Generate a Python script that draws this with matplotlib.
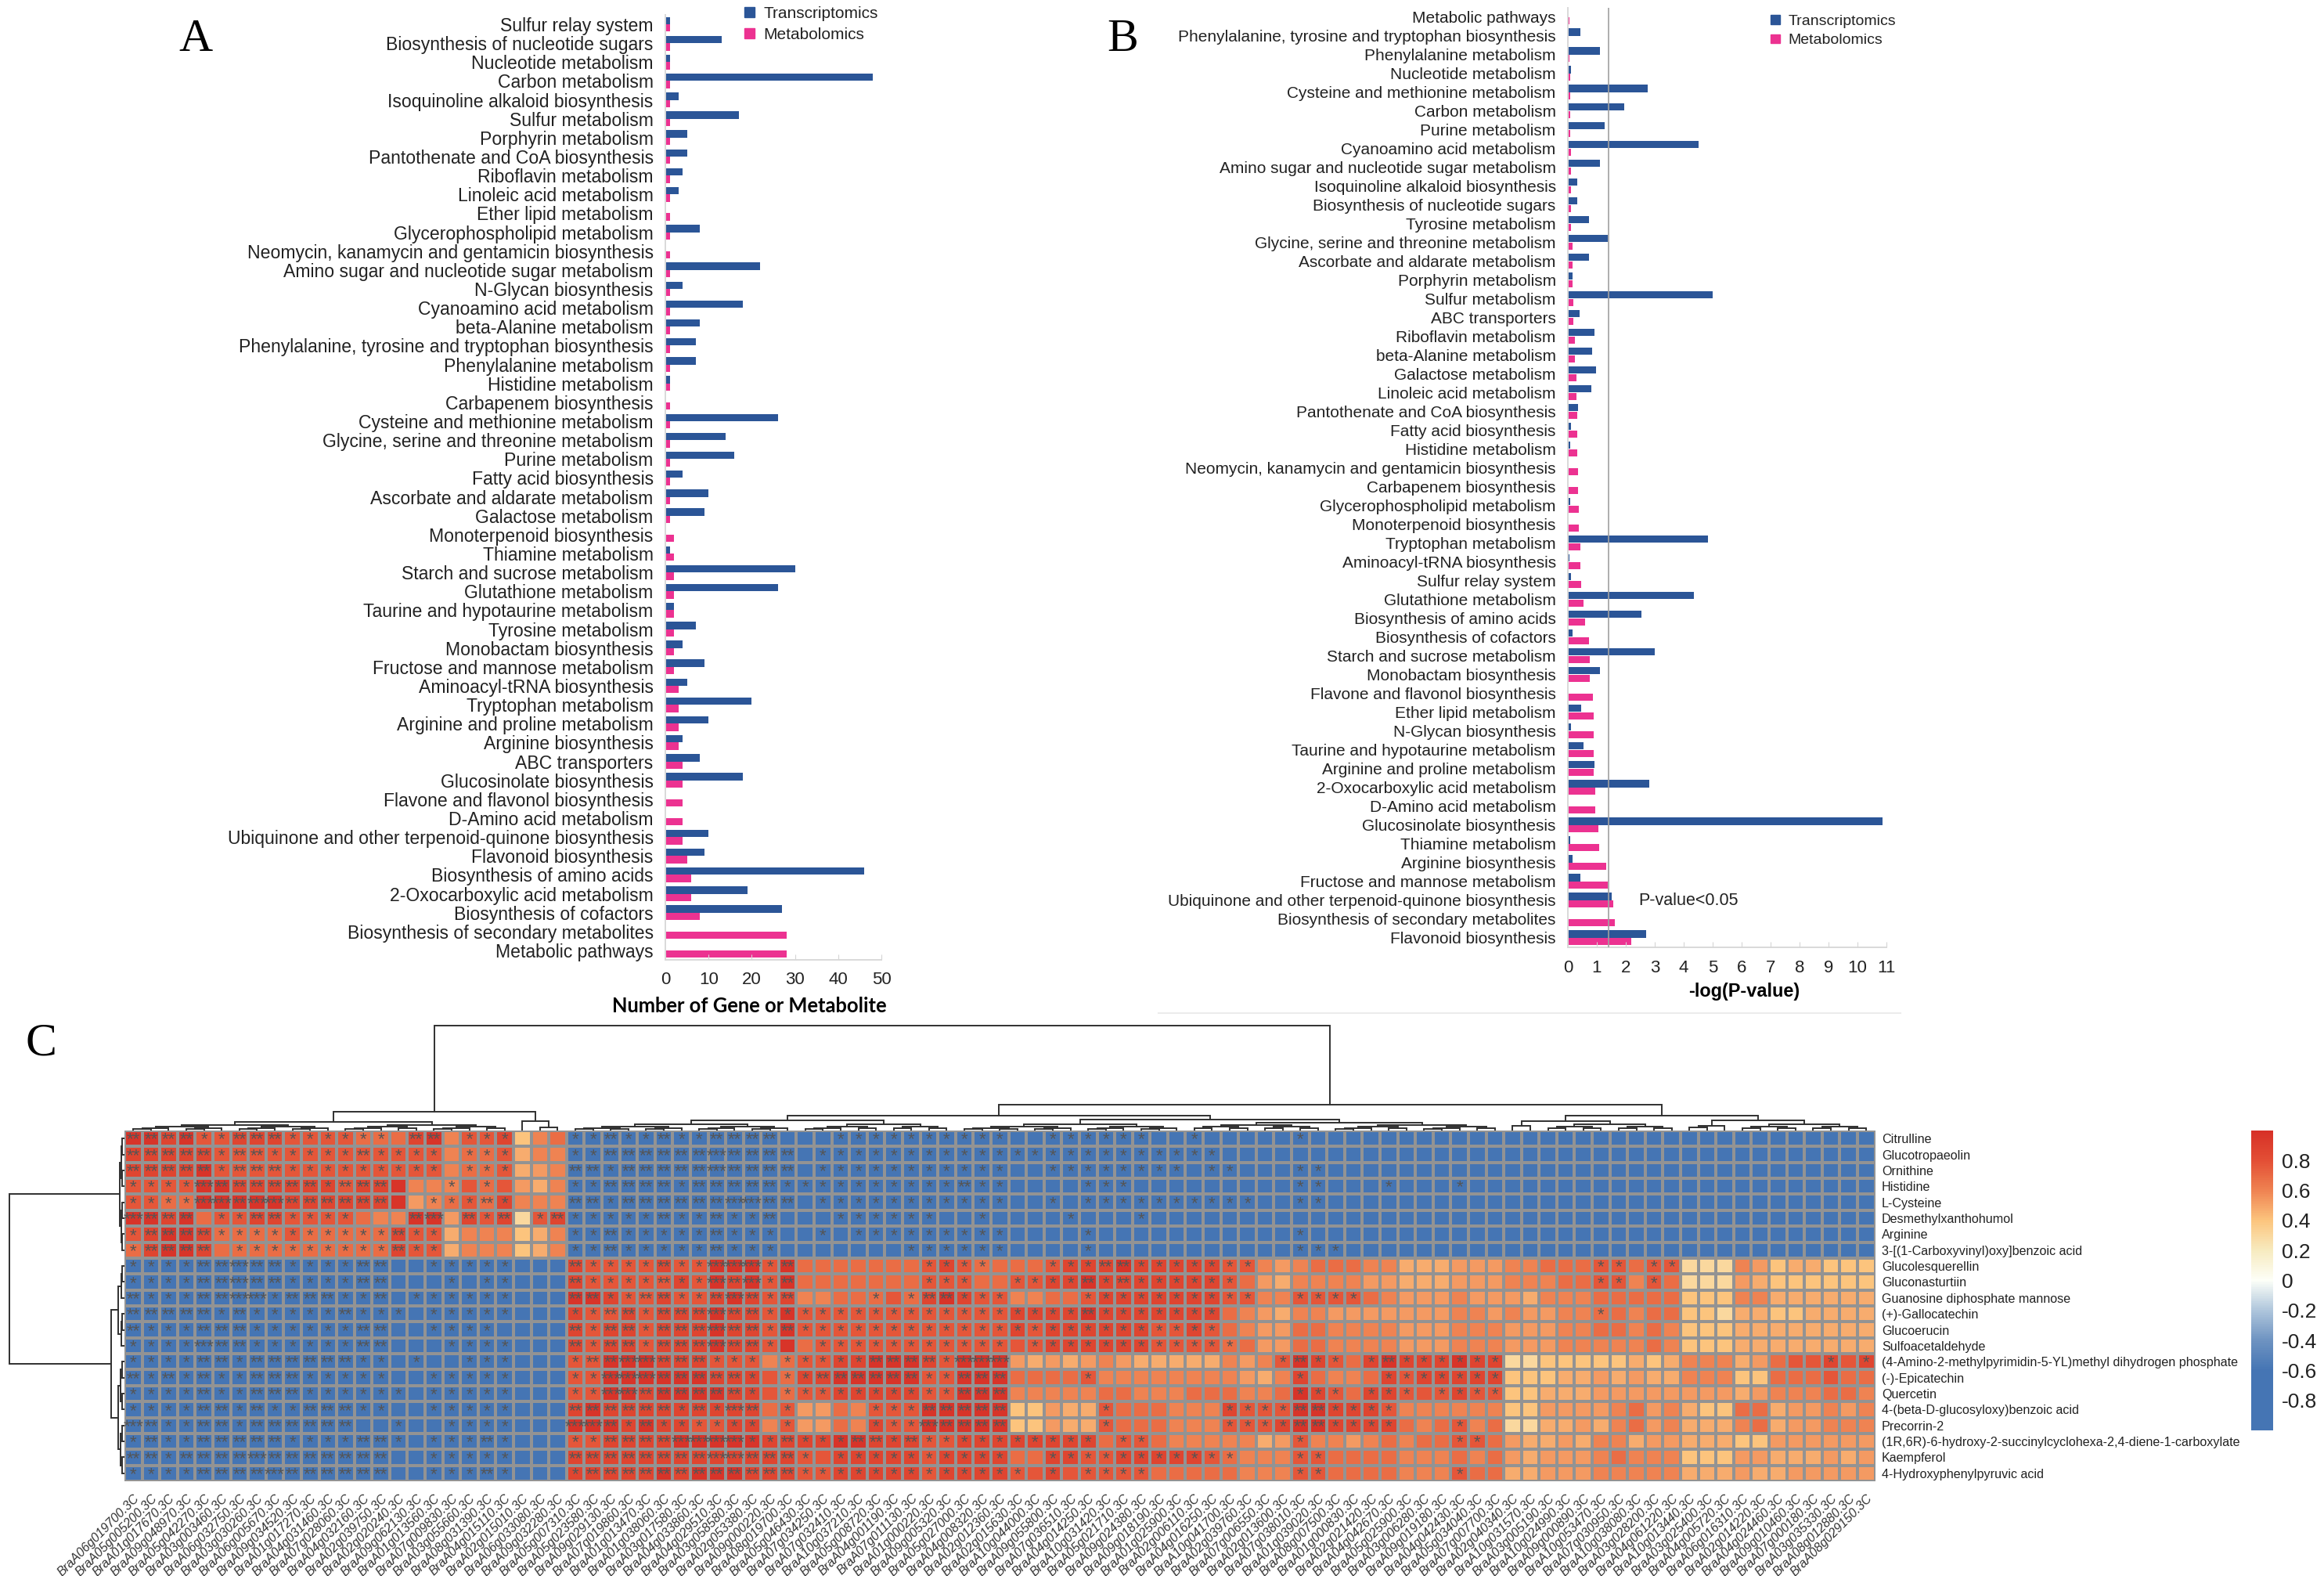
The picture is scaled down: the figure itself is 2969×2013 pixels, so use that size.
from __future__ import annotations

import matplotlib
matplotlib.use("Agg")
import matplotlib.pyplot as plt
import numpy as np
from matplotlib.colors import LinearSegmentedColormap
from matplotlib.patches import Patch

W, H = 2969, 2013
plt.rcParams["font.family"] = ["Liberation Sans", "DejaVu Sans"]

# panel A
A_PATHWAYS = [
    "Sulfur relay system", "Biosynthesis of nucleotide sugars", "Nucleotide metabolism", "Carbon metabolism",
    "Isoquinoline alkaloid biosynthesis", "Sulfur metabolism", "Porphyrin metabolism",
    "Pantothenate and CoA biosynthesis", "Riboflavin metabolism", "Linoleic acid metabolism",
    "Ether lipid metabolism", "Glycerophospholipid metabolism", "Neomycin, kanamycin and gentamicin biosynthesis",
    "Amino sugar and nucleotide sugar metabolism", "N-Glycan biosynthesis", "Cyanoamino acid metabolism",
    "beta-Alanine metabolism", "Phenylalanine, tyrosine and tryptophan biosynthesis", "Phenylalanine metabolism",
    "Histidine metabolism", "Carbapenem biosynthesis", "Cysteine and methionine metabolism",
    "Glycine, serine and threonine metabolism", "Purine metabolism", "Fatty acid biosynthesis",
    "Ascorbate and aldarate metabolism", "Galactose metabolism", "Monoterpenoid biosynthesis", "Thiamine metabolism",
    "Starch and sucrose metabolism", "Glutathione metabolism", "Taurine and hypotaurine metabolism",
    "Tyrosine metabolism", "Monobactam biosynthesis", "Fructose and mannose metabolism",
    "Aminoacyl-tRNA biosynthesis", "Tryptophan metabolism", "Arginine and proline metabolism",
    "Arginine biosynthesis", "ABC transporters", "Glucosinolate biosynthesis", "Flavone and flavonol biosynthesis",
    "D-Amino acid metabolism", "Ubiquinone and other terpenoid-quinone biosynthesis", "Flavonoid biosynthesis",
    "Biosynthesis of amino acids", "2-Oxocarboxylic acid metabolism", "Biosynthesis of cofactors",
    "Biosynthesis of secondary metabolites", "Metabolic pathways",
]
A_TRANS = [1, 13, 1, 48, 3, 17, 5, 5, 4, 3, 0, 8, 0, 22, 4, 18, 8, 7, 7, 1, 0, 26, 14, 16, 4, 10, 9, 0, 1, 30, 26, 2,
           7, 4, 9, 5, 20, 10, 4, 8, 18, 0, 0, 10, 9, 46, 19, 27, 0, 0]
A_METAB = [1, 1, 1, 1, 1, 1, 1, 1, 1, 1, 1, 1, 1, 1, 1, 1, 1, 1, 1, 1, 1, 1, 1, 1, 1, 1, 1, 2, 2, 2, 2, 2,
           2, 2, 2, 3, 3, 3, 3, 4, 4, 4, 4, 4, 5, 6, 6, 8, 28, 28]

# panel B
B_PATHWAYS = [
    "Metabolic pathways", "Phenylalanine, tyrosine and tryptophan biosynthesis", "Phenylalanine metabolism",
    "Nucleotide metabolism", "Cysteine and methionine metabolism", "Carbon metabolism", "Purine metabolism",
    "Cyanoamino acid metabolism", "Amino sugar and nucleotide sugar metabolism", "Isoquinoline alkaloid biosynthesis",
    "Biosynthesis of nucleotide sugars", "Tyrosine metabolism", "Glycine, serine and threonine metabolism",
    "Ascorbate and aldarate metabolism", "Porphyrin metabolism", "Sulfur metabolism", "ABC transporters",
    "Riboflavin metabolism", "beta-Alanine metabolism", "Galactose metabolism", "Linoleic acid metabolism",
    "Pantothenate and CoA biosynthesis", "Fatty acid biosynthesis", "Histidine metabolism",
    "Neomycin, kanamycin and gentamicin biosynthesis", "Carbapenem biosynthesis", "Glycerophospholipid metabolism",
    "Monoterpenoid biosynthesis", "Tryptophan metabolism", "Aminoacyl-tRNA biosynthesis", "Sulfur relay system",
    "Glutathione metabolism", "Biosynthesis of amino acids", "Biosynthesis of cofactors",
    "Starch and sucrose metabolism", "Monobactam biosynthesis", "Flavone and flavonol biosynthesis",
    "Ether lipid metabolism", "N-Glycan biosynthesis", "Taurine and hypotaurine metabolism",
    "Arginine and proline metabolism", "2-Oxocarboxylic acid metabolism", "D-Amino acid metabolism",
    "Glucosinolate biosynthesis", "Thiamine metabolism", "Arginine biosynthesis", "Fructose and mannose metabolism",
    "Ubiquinone and other terpenoid-quinone biosynthesis", "Biosynthesis of secondary metabolites",
    "Flavonoid biosynthesis",
]
B_TRANS = [0, 0.42, 1.1, 0.12, 2.75, 1.95, 1.28, 4.5, 1.1, 0.32, 0.32, 0.74, 1.38, 0.74, 0.15, 5.0, 0.4, 0.93, 0.83,
           0.96, 0.8, 0.34, 0.1, 0.07, 0, 0, 0.07, 0, 4.84, 0.05, 0.1, 4.35, 2.54, 0.17, 3.0, 1.12, 0, 0.47, 0.1, 0.53,
           0.93, 2.8, 0, 10.87, 0.07, 0.15, 0.44, 1.52, 0, 2.7]
B_METAB = [0.05, 0.04, 0.05, 0.07, 0.08, 0.08, 0.09, 0.1, 0.11, 0.12, 0.12, 0.12, 0.17, 0.17, 0.17, 0.18, 0.2, 0.24,
           0.24, 0.3, 0.3, 0.32, 0.32, 0.32, 0.36, 0.36, 0.37, 0.37, 0.42, 0.42, 0.47, 0.55, 0.6, 0.73, 0.76, 0.76,
           0.87, 0.9, 0.9, 0.9, 0.9, 0.95, 0.95, 1.06, 1.09, 1.33, 1.38, 1.58, 1.63, 2.18]
P_CUTOFF = 1.4

# panel C
METABOLITES = [
    "Citrulline", "Glucotropaeolin", "Ornithine", "Histidine", "L-Cysteine", "Desmethylxanthohumol", "Arginine",
    "3-[(1-Carboxyvinyl)oxy]benzoic acid", "Glucolesquerellin", "Gluconasturtiin", "Guanosine diphosphate mannose",
    "(+)-Gallocatechin", "Glucoerucin", "Sulfoacetaldehyde", "(4-Amino-2-methylpyrimidin-5-YL)methyl dihydrogen phosphate",
    "(-)-Epicatechin", "Quercetin", "4-(beta-D-glucosyloxy)benzoic acid", "Precorrin-2",
    "(1R,6R)-6-hydroxy-2-succinylcyclohexa-2,4-diene-1-carboxylate", "Kaempferol", "4-Hydroxyphenylpyruvic acid",
]
GENES = [
    "BraA06g019700.3C", "BraA05g005200.3C", "BraA01g017670.3C", "BraA09g048970.3C", "BraA05g042270.3C",
    "BraA03g003460.3C", "BraA06g032750.3C", "BraA03g030260.3C", "BraA06g005670.3C", "BraA09g034520.3C",
    "BraA01g017270.3C", "BraA04g031460.3C", "BraA07g028060.3C", "BraA04g032160.3C", "BraA02g039750.3C",
    "BraA02g020240.3C", "BraA09g062130.3C", "BraA01g013560.3C", "BraA07g009830.3C", "BraA03g055660.3C",
    "BraA08g031390.3C", "BraA04g015110.3C", "BraA02g015010.3C", "BraA06g033080.3C", "BraA09g032280.3C",
    "BraA05g007310.3C", "BraA05g023580.3C", "BraA09g029130.3C", "BraA07g019860.3C", "BraA01g013470.3C",
    "BraA01g038060.3C", "BraA03g017580.3C", "BraA04g033860.3C", "BraA04g029510.3C", "BraA03g058580.3C",
    "BraA02g053380.3C", "BraA09g000220.3C", "BraA08g019700.3C", "BraA05g046430.3C", "BraA07g034250.3C",
    "BraA07g032410.3C", "BraA10g037210.3C", "BraA05g008720.3C", "BraA04g001190.3C", "BraA07g011130.3C",
    "BraA01g000220.3C", "BraA09g005320.3C", "BraA05g027000.3C", "BraA04g008320.3C", "BraA02g012360.3C",
    "BraA02g015630.3C", "BraA10g044000.3C", "BraA09g055800.3C", "BraA07g036510.3C", "BraA04g014250.3C",
    "BraA10g031420.3C", "BraA05g021710.3C", "BraA09g024380.3C", "BraA09g018190.3C", "BraA01g025900.3C",
    "BraA02g006110.3C", "BraA04g016250.3C", "BraA10g041700.3C", "BraA02g039760.3C", "BraA07g006550.3C",
    "BraA02g013600.3C", "BraA07g038010.3C", "BraA01g039020.3C", "BraA08g007500.3C", "BraA01g000830.3C",
    "BraA02g021420.3C", "BraA04g042670.3C", "BraA05g025900.3C", "BraA03g006280.3C", "BraA09g019180.3C",
    "BraA04g042430.3C", "BraA05g034040.3C", "BraA07g007700.3C", "BraA02g040340.3C", "BraA10g031570.3C",
    "BraA03g005190.3C", "BraA10g024990.3C", "BraA09g000890.3C", "BraA10g053470.3C", "BraA07g030950.3C",
    "BraA10g038080.3C", "BraA03g028200.3C", "BraA04g061220.3C", "BraA10g013440.3C", "BraA03g025400.3C",
    "BraA04g005720.3C", "BraA06g016310.3C", "BraA02g014220.3C", "BraA04g024460.3C", "BraA09g010460.3C",
    "BraA07g000180.3C", "BraA03g035330.3C", "BraA08g012880.3C", "BraA08g029150.3C",
]

# one character per cell; levels below turn them into correlations
CELL_LEVELS = {"0": -0.85, "b": -0.72, "1": 0.30, "2": 0.40, "3": 0.47, "4": 0.53, "5": 0.60,
               "6": 0.68, "7": 0.77, "8": 0.86, "9": 0.97}
HEAT_UPPER_LEFT = [
    "9989 778 88 7777 666 89 5 77 8 2 5 6",
    "88888 7777777777777 5667355",
    "88889 7777777777777 5667345",
    "7777 99 888888 7 88 9 555 767 435",
    "7766 99999 888888 9 456 768 555",
    "9989 6 77 88 7777 655 99 4 878 178",
    "78998 6666 7 66666 877 3 555 235",
    "68998 6666 6 66666 877 3 555 235",
]
HEAT_UPPER_RIGHT = "000000000000 0 000000000000000000000000 0000000000000000000000 00000bb00000000"
HEAT_LOWER_LEFT = "0000000000000000000000000"
HEAT_LOWER_RIGHT = [
    "877778779997 9 666666678766667888988888 7754566655333444556667 7677 111 54 233222",
    "877777879897 9 6666666 777 66 77 88 9 8888888 76 43 5555 44 333 444 555 66 7 7576 111 43 222222",
    "998778778987 8 556667689877556678888888 77 55 7777 65 444 5 444 3 555 6 6666 222 55 333333",
    "877878889887 9 777777777777 88889 8888888 6543 55 4444444 55 4 5 44 55 6 6566 221 33 223333",
    "878878889887 9 777777777777 8 7 888888 77 8 7 6544 66 5555 444 555 444 55 6 6565 222 33 333333",
    "878878889887 9 6 7777777777777 888888 7777 6644 66 5555 444 555 444 555 5565 222 33 333333",
    "779998887775 6 778899987999 434345 433333 5457 9876 89888988 112222 2323 555 34 677878",
    "779999998887 6 889999977999 66667 5555555 5435 8655 68788888 222334 3433 555 22 666766",
    "779989999887 6 778888877999 55555 66 555 66 6556 9876 88777877 223334 4444 444 34 555665",
    "898888888886 7 446577799999 22433 7666 555 8777 9988 87555555 224444 5645 322 66 344545",
    "999898877885 7 446587799999 22433 7666 555 7778 9988 88656756 113343 5645 333 56 344555",
    "778888999998 8 889988877888 88888 6776 555 5534 7554 56566776 433435 5344 333 22 444444",
    "888888888888 8 778888878888 66887 7888887 6555 7766 66555656 434445 6555 222 44 333434",
    "888889899988 8 778888878888 77877 777 6666 6555 7766 66555766 334445 5555 333 43 344444",
]
# number of asterisks in each cell
STAR_ROWS = [
    "2222 11 222 111111 0 22 0 111 000 112112112222 0 001111111111 001111110010 0000100000000000 000000000000000000000",
    "22222 1 22 11111 2 1111 0 111 000 112222223222 2 011111111111 111111111111 0000000000000000 000000000000000000000",
    "22222 1 222 111111111 0 111 000 221222223222 2 011111111111 001111111101 1000110000000000 000000000000000000000",
    "1111 3 222222 1 222 000 1 0 1 0000 112222122222 1 111111111211 000011100000 0000110001000100 000000000000000000000",
    "1111 33 2 33 222222 00 111 2 1 000 221222222332 2 011111111111 001011111111 1100110000000000 000000000000000000000",
    "3222 0 11 22 1111 000 23 0 212 0 12 111112112112 0 001111110010 000100010000 0000000000000000 000000000000000000000",
    "12222 1111111111 2 11 0000000 112111112111 0 010111111111 000010000000 0000100000000000 000000000000000000000",
    "12222 0 111111111 2 11 0000000 112111112111 0 000000111111 000010000000 0000111000000000 000000000000000000000",
    "1111 22 3 22 1111 22 00 11111 000 211112113331 2 000000011110 001112211111 1100000000000000 000001101100000000000",
    "1111 22 3 22 1111 22 000 1 0 11 000 211112113231 2 000000011100 111121211111 1000000000000000 000001101000000000000",
    "2111 22 33 1 222 1 1 2 0 111111 000 221122112321 2 000010122111 000011111111 1100111100000000 000000000000000000000",
    "2222 2 1 2 11111 2 111 0 11111 000 112212223221 1 111111111111 111121111111 0000000000000000 000001000000000000000",
    "2111 222 111111 22 00 1111 0000 212212223221 2 111111111111 111111111111 0000000000000000 000000000000000000000",
    "1111 3 22 111111 22 000 1111 000 212212223221 0 011111111111 011111111111 1000000000000000 000000000000000000000",
    "1111 22 1 222222 11 0 1 00 111 000 122332221110 1 111122221333 000000000000 0001211012111111 000000000000000000101",
    "2121 2 11 222 11111 00 11111 000 113332222210 1 122222211222 000010000000 0000100001111111 000000000000000000000",
    "1111 2 11 222 111111 0 11111 000 113322222210 1 111111111222 000000000000 0000111011101111 000000000000000000000",
    "1111 22 1 2 11 222 11 00 11111 000 222222121320 1 000011122222 000001000000 1111221111000000 000000000000000000000",
    "3211 22 1 222222 00 1 00 1111 000 332121111110 1 000011132222 000001000000 1111221111000100 000000000000000000000",
    "1211 22222 1111 22 1 0 111 2 1 000 112222333311 2 111221211111 111110110000 0000100000000110 000000000000000000000",
    "2212 222 3 2222222 00 11111 000 222222223322 2 101111111111 001111111111 1000110000000000 000000000000000000000",
    "1111 2222 3 222222 00 111 2 1 000 122222222222 2 111111111111 101011110000 0000110000000100 000000000000000000000",
]
CBAR_TICKS = [-0.8, -0.6, -0.4, -0.2, 0, 0.2, 0.4, 0.6, 0.8]
CBAR_LABELS = ["-0.8", "-0.6", "-0.4", "-0.2", "0", "0.2", "0.4", "0.6", "0.8"]

BLUE = "#2B5597"
PINK = "#EC3291"


def px_axes(fig, left, top, right, bottom):
    return fig.add_axes([left / W, 1 - bottom / H, (right - left) / W, (bottom - top) / H])


def bar_panel(ax, names, trans, metab, xmax, ticks, labelsize, ticksize):
    y = np.arange(len(names))
    ax.barh(y - 0.195, trans, height=0.39, color=BLUE)
    ax.barh(y + 0.195, metab, height=0.39, color=PINK)
    ax.set_xlim(0, xmax)
    ax.set_ylim(len(names) - 0.5, -0.5)
    ax.set_yticks(y, names, fontsize=labelsize, color="#222222")
    ax.set_xticks(ticks)
    ax.tick_params(axis="y", length=0, pad=11)
    ax.tick_params(axis="x", direction="in", length=5, color="#d5d5d5", labelsize=ticksize, labelcolor="#222222")
    for side in ("top", "right"):
        ax.spines[side].set_visible(False)
    for side in ("left", "bottom"):
        ax.spines[side].set_color("#d9d9d9")
        ax.spines[side].set_linewidth(1.4)


def legend_at(ax, x, top, size):
    handles = [Patch(color=BLUE, label="Transcriptomics"), Patch(color=PINK, label="Metabolomics")]
    ax.legend(handles=handles, loc="upper left", bbox_to_anchor=(x / W, 1 - top / H), bbox_transform=ax.figure.transFigure,
              frameon=False, fontsize=size, labelspacing=0.38, handlelength=0.62, handleheight=0.55,
              handletextpad=0.55, borderpad=0, borderaxespad=0, labelcolor="#222222")


def low_tree(ax, a, b, h, horizontal):
    # small merges inside one cluster, split in half until single leaves
    if a == b:
        return a + 0.5
    mid = (a + b) // 2
    c1 = low_tree(ax, a, mid, h * 0.66, horizontal)
    c2 = low_tree(ax, mid + 1, b, h * 0.66, horizontal)
    join(ax, c1, c2, h, h * 0.66 if mid > a else 0, h * 0.66 if mid + 1 < b else 0, horizontal)
    return (c1 + c2) / 2


def join(ax, c1, c2, h, h1, h2, horizontal):
    xs, ys = [c1, c1, c2, c2], [h1, h, h, h2]
    if horizontal:
        ax.plot(xs, ys, color="#303030", lw=1.4, solid_joinstyle="miter")
    else:
        ax.plot(ys, xs, color="#303030", lw=1.4, solid_joinstyle="miter")


def tree(ax, node, horizontal):
    # node is (height, left, right), or ("r", first leaf, last leaf, height) for a low cluster
    if node[0] == "r":
        return low_tree(ax, node[1], node[2], node[3], horizontal), node[3]
    h, left, right = node
    c1, h1 = tree(ax, left, horizontal)
    c2, h2 = tree(ax, right, horizontal)
    join(ax, c1, c2, h, h1, h2, horizontal)
    return (c1 + c2) / 2, h


COL_TREE = (134,
            (24, (11, ("r", 0, 11, 7), ("r", 12, 21, 7)), (12, ("r", 22, 22, 0), ("r", 23, 24, 4.5))),
            (33,
             (19, (13, ("r", 25, 37, 8), ("r", 38, 46, 8)),
              (14, ("r", 47, 59, 8), (10, ("r", 60, 67, 7), ("r", 68, 77, 7)))),
             (19, (12, ("r", 78, 79, 6), ("r", 80, 87, 8)), (13, ("r", 88, 90, 6), ("r", 91, 98, 8)))))
ROW_TREE = (147,
            (6, ("r", 0, 3, 4), ("r", 4, 7, 4)),
            (17.5, (8, ("r", 8, 10, 4), ("r", 11, 13, 4)), (8, ("r", 14, 17, 5), ("r", 18, 21, 5))))


def main() -> None:
    fig = plt.figure(figsize=(W / 100, H / 100), dpi=100, facecolor="white")

    ax_a = px_axes(fig, 850, 19, 1126, 1226)
    bar_panel(ax_a, A_PATHWAYS, A_TRANS, A_METAB, 50, range(0, 51, 10), 16.6, 16)
    ax_a.tick_params(axis="x", pad=11)
    ax_a.set_xlabel("Number of Gene or Metabolite", fontsize=18.4, fontweight="bold", family="Lato", va="center")
    ax_a.xaxis.set_label_coords(957 / W, 1 - 1285 / H, transform=fig.transFigure)
    legend_at(ax_a, 951, 8, 15)

    ax_b = px_axes(fig, 2003, 9.5, 2410, 1209.5)
    bar_panel(ax_b, B_PATHWAYS, B_TRANS, B_METAB, 11, range(0, 12), 15, 16)
    ax_b.tick_params(axis="x", pad=12)
    ax_b.axvline(P_CUTOFF, color="#a0a0a0", lw=1.2, zorder=3)
    ax_b.text(2093 / W, 1 - 1151 / H, "P-value<0.05", transform=fig.transFigure, fontsize=15.5, va="center", color="#222222")
    ax_b.set_xlabel("-log(P-value)", fontsize=16.9, fontweight="bold", va="center")
    ax_b.xaxis.set_label_coords(2228 / W, 1 - 1267 / H, transform=fig.transFigure)
    legend_at(ax_b, 2262, 19, 14)
    fig.add_artist(plt.Line2D([1480 / W, 2428 / W], [1 - 1294 / H] * 2, color="#ececec", lw=1.5))

    for letter, x, y in (("A", 250, 65), ("B", 1434, 65), ("C", 52, 1348)):
        fig.text(x / W, 1 - y / H, letter, family="Liberation Serif", fontsize=43, ha="center", va="baseline", color="black")

    upper = [r.replace(" ", "") + HEAT_UPPER_RIGHT.replace(" ", "") for r in HEAT_UPPER_LEFT]
    lower = [HEAT_LOWER_LEFT + r.replace(" ", "") for r in HEAT_LOWER_RIGHT]
    rows = upper + lower
    stars = [r.replace(" ", "") for r in STAR_ROWS]
    assert all(len(r) == len(GENES) for r in rows), [len(r) for r in rows]
    assert all(len(r) == len(GENES) for r in stars), [len(r) for r in stars]
    values = np.array([[CELL_LEVELS[c] for c in r] for r in rows])

    cmap = LinearSegmentedColormap.from_list("corr", [
        (0.0, "#4575B4"), (0.2, "#4575B4"), (0.3, "#6E93C1"), (0.4, "#AFC6DC"), (0.5, "#FDFFF8"),
        (0.6, "#F7EBC0"), (0.7, "#FCC57E"), (0.8, "#EF8352"), (0.9, "#E34F35"), (1.0, "#D73027"),
    ])
    ax_h = px_axes(fig, 159, 1444, 2395.5, 1892)
    mesh = ax_h.pcolormesh(values, cmap=cmap, vmin=-1, vmax=1, edgecolors="#939393", linewidth=1.5)
    ax_h.set_ylim(len(rows), 0)
    ax_h.set_xlim(0, len(GENES))
    for i, row in enumerate(stars):
        for j, n in enumerate(row):
            if n != "0":
                ax_h.text(j + 0.5, i + 0.86, "*" * int(n), ha="center", va="baseline", fontsize=16, color="#555555")
    ax_h.yaxis.tick_right()
    ax_h.set_yticks(np.arange(len(rows)) + 0.5, METABOLITES, fontsize=11.6, color="#222222")
    ax_h.set_xticks(np.arange(len(GENES)) + 0.5, GENES, fontsize=11.5, style="italic", rotation=45, ha="right",
                    rotation_mode="anchor", color="#333333")
    ax_h.tick_params(length=0, pad=6)
    ax_h.tick_params(axis="x", pad=10)
    for s in ax_h.spines.values():
        s.set_visible(False)

    ax_top = px_axes(fig, 159, 1300, 2395.5, 1444)
    ax_top.set_xlim(0, len(GENES))
    ax_top.set_ylim(0, 144)
    ax_top.axis("off")
    tree(ax_top, COL_TREE, True)

    ax_left = px_axes(fig, 0, 1444, 159, 1892)
    ax_left.set_ylim(len(rows), 0)
    ax_left.set_xlim(159, 0)
    ax_left.axis("off")
    tree(ax_left, ROW_TREE, False)

    ax_c = px_axes(fig, 2876, 1444, 2904, 1827)
    cb = fig.colorbar(mesh, cax=ax_c, ticks=CBAR_TICKS)
    cb.ax.set_yticklabels(CBAR_LABELS, fontsize=19, color="#222222")
    cb.ax.tick_params(length=0, pad=8)
    cb.outline.set_visible(False)

    fig.savefig("out.png", dpi=100, facecolor="white")


if __name__ == "__main__":
    main()
